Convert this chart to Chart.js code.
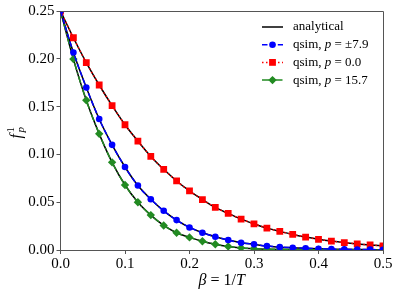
<!DOCTYPE html>
<html>
<head>
<meta charset="utf-8">
<script src="https://cdn.jsdelivr.net/npm/chart.js@4.4.0/dist/chart.umd.min.js"></script>
<style>
    html, body { margin: 0; padding: 0; background: #fff; }
    #wrap { width: 399px; height: 294px; }
</style>
</head>
<body>
<div id="wrap"><canvas id="chart" width="399" height="294"></canvas></div>
<script>
// Chart data
const betaValues = [0.00, 0.02, 0.04, 0.06, 0.08, 0.10, 0.12, 0.14, 0.16, 0.18, 0.20, 0.22, 0.24,
                    0.26, 0.28, 0.30, 0.32, 0.34, 0.36, 0.38, 0.40, 0.42, 0.44, 0.46, 0.48, 0.50];

const qsimP79 = [0.2500, 0.2066, 0.1700, 0.1370, 0.1100, 0.0868, 0.0674, 0.0531, 0.0410, 0.0313, 0.0236, 0.0181, 0.0139,
                 0.0104, 0.0076, 0.0059, 0.0042, 0.0030, 0.0024, 0.0018, 0.0013, 0.0010, 0.0007, 0.0005, 0.0004, 0.0003];

const qsimP00 = [0.2500, 0.2220, 0.1960, 0.1726, 0.1510, 0.1310, 0.1139, 0.0979, 0.0844, 0.0722, 0.0618, 0.0528, 0.0445,
                 0.0382, 0.0323, 0.0274, 0.0229, 0.0195, 0.0163, 0.0135, 0.0112, 0.0093, 0.0077, 0.0064, 0.0053, 0.0044];

const qsimP157 = [0.2500, 0.1997, 0.1566, 0.1215, 0.0917, 0.0680, 0.0500, 0.0365, 0.0257, 0.0180, 0.0132, 0.0092, 0.0060,
                  0.0037, 0.0022, 0.0014, 0.0009, 0.0006, 0.0004, 0.0003, 0.0002, 0.0001, 0.0001, 0.0001, 0.0000, 0.0000];

const xTicks = [0.0, 0.1, 0.2, 0.3, 0.4, 0.5];
const yTicks = [0.00, 0.05, 0.10, 0.15, 0.20, 0.25];

const seriesLabels = ['qsim, p = ±7.9', 'qsim, p = 0.0', 'qsim, p = 15.7'];
const analyticalLabel = 'analytical';

const SERIF = '"Liberation Serif", "DejaVu Serif", serif';
const SPINE = '#555';

document.addEventListener('DOMContentLoaded', function() {
    createChart();
});

// Pair x and y values for a linear x scale
function toPoints(ys) {
    return betaValues.map((b, i) => ({ x: b, y: ys[i] }));
}

// Write text with single letter variables in italics
function drawMath(ctx, text, x, y, size, align) {
    const parts = text.split(/(β|\bp\b|\bT\b)/).filter(s => s.length);
    const fonts = parts.map(s => (/^(β|p|T)$/.test(s) ? 'italic ' : '') + size + 'px ' + SERIF);
    const widths = parts.map((s, i) => { ctx.font = fonts[i]; return ctx.measureText(s).width; });
    const total = widths.reduce((a, b) => a + b, 0);
    let cx = align === 'center' ? x - total / 2 : x;
    ctx.textAlign = 'left';
    parts.forEach((s, i) => {
        ctx.font = fonts[i];
        ctx.fillText(s, cx, y);
        cx += widths[i];
    });
}

// Marker for the legend rows
function drawMarker(ctx, style, r, x, y, color) {
    ctx.save();
    ctx.fillStyle = color;
    ctx.setLineDash([]);
    ctx.beginPath();
    if (style === 'circle') {
        ctx.arc(x, y, r, 0, Math.PI * 2);
    } else if (style === 'rect') {
        const s = r * Math.SQRT1_2;
        ctx.rect(x - s, y - s, 2 * s, 2 * s);
    } else {
        ctx.moveTo(x, y - r);
        ctx.lineTo(x + r, y);
        ctx.lineTo(x, y + r);
        ctx.lineTo(x - r, y);
        ctx.closePath();
    }
    ctx.fill();
    ctx.restore();
}

// Frame, axis titles and legend
const decorPlugin = {
    id: 'decor',
    afterDraw(chart) {
        const ctx = chart.ctx;
        const a = chart.chartArea;
        ctx.save();

        // top and right spines
        ctx.strokeStyle = SPINE;
        ctx.lineWidth = 1;
        ctx.beginPath();
        ctx.moveTo(a.left, a.top + 0.5);
        ctx.lineTo(a.right + 0.5, a.top + 0.5);
        ctx.lineTo(a.right + 0.5, a.bottom);
        ctx.stroke();

        // x axis title
        ctx.fillStyle = '#000';
        ctx.textBaseline = 'alphabetic';
        drawMath(ctx, 'β = 1/T', (a.left + a.right) / 2, 285, 16, 'center');

        // y axis title f_p^1
        ctx.save();
        ctx.translate(21, (a.top + a.bottom) / 2 + 2);
        ctx.rotate(-Math.PI / 2);
        ctx.font = 'italic 16px ' + SERIF;
        ctx.fillText('f', -6, 0);
        ctx.font = '11px ' + SERIF;
        ctx.fillText('1', 0, -7);
        ctx.font = 'italic 11px ' + SERIF;
        ctx.fillText('p', 0, 3);
        ctx.restore();

        // legend
        const order = [3, 0, 1, 2];
        ctx.textBaseline = 'middle';
        order.forEach((idx, row) => {
            const ds = chart.data.datasets[idx];
            const y = 27 + row * 17.7;
            ctx.strokeStyle = ds.borderColor;
            ctx.lineWidth = ds.borderWidth;
            ctx.setLineDash(ds.borderDash || []);
            ctx.beginPath();
            ctx.moveTo(262, y);
            ctx.lineTo(283, y);
            ctx.stroke();
            ctx.setLineDash([]);
            if (ds.pointRadius > 0) {
                drawMarker(ctx, ds.pointStyle, ds.pointRadius, 272.5, y, ds.borderColor);
            }
            ctx.fillStyle = '#000';
            drawMath(ctx, ds.label, 293, y, 13, 'left');
        });
        ctx.restore();
    }
};

// Build the chart
function createChart() {
    const ctx = document.getElementById('chart');

    const qsim = (label, ys, color, dash, style, r) => ({
        label: label,
        data: toPoints(ys),
        borderColor: color,
        backgroundColor: color,
        borderWidth: 1.5,
        borderDash: dash,
        pointStyle: style,
        pointRadius: r,
        pointBorderWidth: 0,
        pointBackgroundColor: color,
        cubicInterpolationMode: 'monotone',
        clip: 0
    });

    const analytical = (ys) => ({
        label: analyticalLabel,
        data: toPoints(ys),
        borderColor: '#000',
        borderWidth: 1.5,
        pointRadius: 0,
        cubicInterpolationMode: 'monotone',
        clip: 0
    });

    new Chart(ctx, {
        type: 'line',
        data: {
            datasets: [
                qsim(seriesLabels[0], qsimP79, '#0000ff', [5.5, 2.4], 'circle', 3.3),
                qsim(seriesLabels[1], qsimP00, '#ff0000', [1.5, 2.5], 'rect', 4.8),
                qsim(seriesLabels[2], qsimP157, '#228b22', [7, 2.5, 1.5, 2.5], 'rectRot', 4.2),
                analytical(qsimP79),
                analytical(qsimP00),
                analytical(qsimP157)
            ]
        },
        options: {
            responsive: false,
            animation: false,
            devicePixelRatio: 1,
            layout: { padding: { top: 10.5, right: 16, left: 0, bottom: 0 } },
            plugins: {
                legend: { display: false },
                tooltip: { enabled: false }
            },
            scales: {
                x: {
                    type: 'linear',
                    min: 0,
                    max: 0.5,
                    afterBuildTicks: scale => { scale.ticks = xTicks.map(v => ({ value: v })); },
                    afterFit: scale => { scale.height = 44; },
                    ticks: {
                        callback: v => v.toFixed(1),
                        font: { family: SERIF, size: 15 },
                        color: '#000',
                        padding: 1,
                        maxRotation: 0
                    },
                    grid: { drawOnChartArea: false, drawTicks: true, tickLength: 4, color: SPINE },
                    border: { display: true, color: SPINE, width: 1 }
                },
                y: {
                    type: 'linear',
                    min: 0,
                    max: 0.25,
                    afterBuildTicks: scale => { scale.ticks = yTicks.map(v => ({ value: v })); },
                    afterFit: scale => { scale.width = 60.5; },
                    ticks: {
                        callback: v => v.toFixed(2),
                        font: { family: SERIF, size: 15 },
                        color: '#000',
                        padding: 2
                    },
                    grid: { drawOnChartArea: false, drawTicks: true, tickLength: 4, color: SPINE },
                    border: { display: true, color: SPINE, width: 1 }
                }
            }
        },
        plugins: [decorPlugin]
    });
}
</script>
</body>
</html>
